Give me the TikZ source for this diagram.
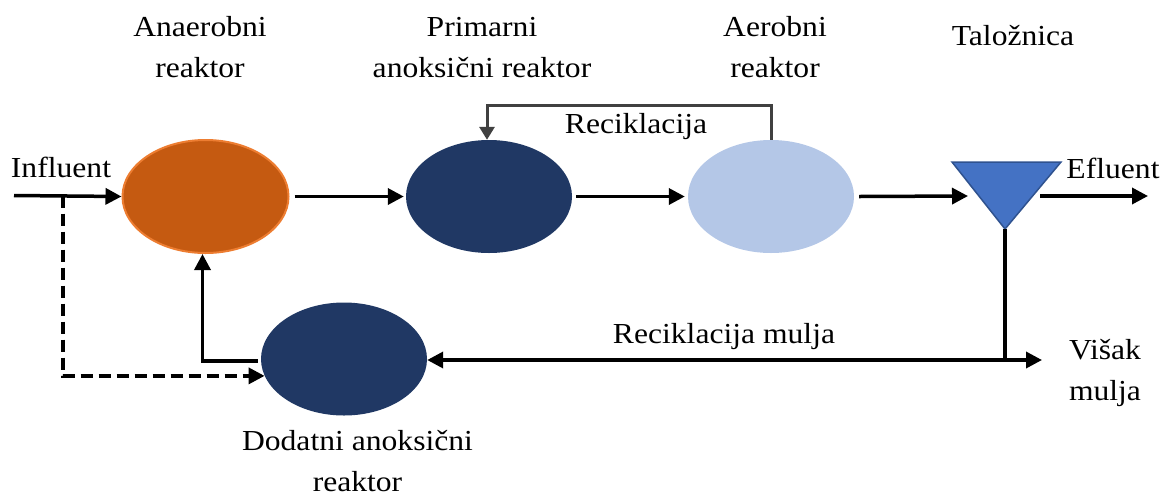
\documentclass[tikz,border=0pt]{standalone}
\usepackage{fontspec}
\setmainfont[FakeStretch=1.09]{Liberation Serif}
\usetikzlibrary{arrows.meta,shapes.geometric}

\definecolor{anaerFill}{HTML}{C55A11}
\definecolor{anaerLine}{HTML}{ED7D31}
\definecolor{navy}{HTML}{203864}
\definecolor{paleblue}{HTML}{B4C7E7}
\definecolor{tankFill}{HTML}{4472C4}
\definecolor{tankLine}{HTML}{2F528F}
\definecolor{recgray}{HTML}{404040}

\tikzset{
  reactor/.style={ellipse, inner sep=0pt, minimum width=166pt, minimum height=113pt},
  lbl/.style={inner sep=0pt, anchor=base, align=center,
              font=\fontsize{29}{41}\selectfont},
  tip/.tip={Triangle[length=16pt,width=16pt]},
  flow/.style={line width=3.5pt, -tip},
  flowboth/.style={line width=3.5pt, tip-tip},
  bypass/.style={line width=3.5pt, dash pattern=on 12pt off 6pt, -tip},
  recline/.style={line width=3pt, recgray, -{Triangle[length=13pt,width=15pt]}},
}

\begin{document}
\begin{tikzpicture}[x=1pt,y=-1pt]
  \useasboundingbox (0,0) rectangle (1166,496);

  % reactors
  \node[reactor, fill=anaerFill, draw=anaerLine, line width=2pt] (anaer) at (205.5,196.5) {};
  \node[reactor, fill=navy] (prim) at (489,196.5) {};
  \node[reactor, fill=paleblue] (aer) at (771,196.5) {};
  \node[reactor, fill=navy] (dod) at (344,359) {};

  % settling tank
  \coordinate (tankL) at (952,162);
  \coordinate (tankR) at (1061,162);
  \coordinate (tankApex) at (1005,229);
  \fill[tankFill, draw=tankLine, line width=1.5pt] (tankL) -- (tankR) -- (tankApex) -- cycle;

  % free ends
  \coordinate (inStart) at (14,195.5);
  \coordinate (split) at (63,195.5);
  \coordinate (tankIn) at (968,196);
  \coordinate (tankOut) at (1040,196);
  \coordinate (effEnd) at (1148,196);
  \coordinate (waste) at (1042,360);

  % main line
  \draw[flow] (inStart) -- (anaer.west);
  \draw[flow] ([xshift=5pt]anaer.east) -- ([xshift=-2pt]prim.west);
  \draw[flow] ([xshift=4pt]prim.east) -- ([xshift=-3pt]aer.west);
  \draw[flow] ([xshift=5pt]aer.east) -- (tankIn);
  \draw[flow] (tankOut) -- (effEnd);

  % internal recycle
  \draw[recline] (aer.north) -- (aer.north |- 0,105) -| ([xshift=-2pt]prim.north);

  % sludge recycle and waste
  \draw[line width=3.5pt] (tankApex) -- (tankApex |- waste);
  \draw[flowboth] (dod.east |- waste) -- (waste);
  \draw[flow] ([xshift=-3pt,yshift=-2pt]dod.west) -| ([xshift=-3pt]anaer.south);

  % influent bypass
  \draw[bypass] (split) |- (dod.192);

  % labels
  \node[lbl] (tAnaer) at (200,77) {Anaerobni\\reaktor};
  \node[lbl] (tPrim) at (482,77) {Primarni\\anoksični reaktor};
  \node[lbl] (tAer) at (775,77) {Aerobni\\reaktor};
  \node[lbl] (tTank) at (1013,45) {Taložnica};
  \node[lbl] (tIn) at (61,177) {Influent};
  \node[lbl] (tEff) at (1113,178) {Efluent};
  \node[lbl] (tRec) at (636,133) {Reciklacija};
  \node[lbl] (tRecM) at (724,343) {Reciklacija mulja};
  \node[lbl] (tWaste) at (1105,400) {Višak\\mulja};
  \node[lbl] (tDod) at (357.5,491) {Dodatni anoksični\\reaktor};
\end{tikzpicture}
\end{document}
